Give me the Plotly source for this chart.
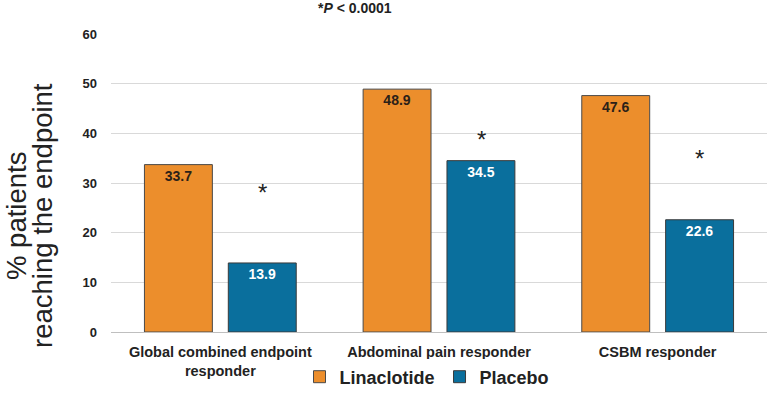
import plotly.graph_objects as go

categories = ["Global combined endpoint<br>responder", "Abdominal pain responder", "CSBM responder"]
linaclotide = [33.7, 48.9, 47.6]
placebo = [13.9, 34.5, 22.6]
star_y = [28.0, 38.7, 34.9]
y_ticks = [0, 10, 20, 30, 40, 50, 60]

FONT = "Liberation Sans, Arial, sans-serif"

fig = go.Figure()
fig.add_trace(go.Bar(
    name="Linaclotide", x=categories, y=linaclotide,
    marker=dict(color="#EC8E2C", line=dict(color="#4a4a4a", width=1)),
    text=[f"{v:.1f}" for v in linaclotide], textposition="inside",
    insidetextanchor="end", textangle=0,
    textfont=dict(family=FONT, size=14, color="#2b2118", weight="bold"),
))
fig.add_trace(go.Bar(
    name="Placebo", x=categories, y=placebo,
    marker=dict(color="#0A6F9D", line=dict(color="#3a3a3a", width=1)),
    text=[f"{v:.1f}" for v in placebo], textposition="inside",
    insidetextanchor="end", textangle=0,
    textfont=dict(family=FONT, size=14, color="white", weight="bold"),
))

W, H = 769, 404
ML, MR, MT, MB = 111, 2, 34, 72
pw = W - ML - MR
ph = H - MT - MB
px0, py0 = ML, MT + ph  # page coords of plot origin


def pxx(x):
    return (x - px0) / pw


def pxy(y):
    return (py0 - y) / ph


annotations = [dict(text="*<i>P</i> < 0.0001", x=pxx(355), xref="paper",
                    y=pxy(8), yref="paper", xanchor="center", yanchor="middle",
                    showarrow=False, font=dict(family=FONT, size=14, color="#222", weight="bold"))]
for c, sy in zip(categories, star_y):
    annotations.append(dict(text="*", x=c, y=sy, xref="x", yref="y", xshift=42,
                            showarrow=False, font=dict(family=FONT, size=24, color="#222")))
for txt, cx in [("% patients", 16), ("reaching the endpoint", 42)]:
    annotations.append(dict(text=txt, textangle=-90, x=pxx(cx), y=pxy(216),
                            xref="paper", yref="paper", xanchor="center", yanchor="middle",
                            showarrow=False, font=dict(family=FONT, size=27.5, color="#222")))

fig.update_layout(
    width=W, height=H,
    margin=dict(l=ML, r=MR, t=MT, b=MB),
    plot_bgcolor="white", paper_bgcolor="white",
    barmode="group", bargap=0.233, bargroupgap=0.19,
    font=dict(family=FONT, color="#222"),
    yaxis=dict(range=[0, 60], tickvals=y_ticks, showgrid=True, automargin=False,
               gridcolor="#d9d9d9", gridwidth=1, zeroline=False,
               ticks="", ticklabelstandoff=13,
               tickfont=dict(family=FONT, size=13, color="#222", weight="bold")),
    xaxis=dict(showline=True, linecolor="#bfbfbf", linewidth=1, ticks="", automargin=False,
               ticklabelstandoff=7,
               tickfont=dict(family=FONT, size=14.5, color="#222", weight="bold")),
    legend=dict(orientation="h", x=pxx(427), xanchor="center", y=pxy(377), yanchor="middle",
                font=dict(family=FONT, size=18, color="#222", weight="bold"),
                itemwidth=30, tracegroupgap=0),
    annotations=annotations,
)

fig.write_html("out.html", config={"displayModeBar": False},
               post_script="document.body.style.margin='0px';document.body.style.padding='0px';")
